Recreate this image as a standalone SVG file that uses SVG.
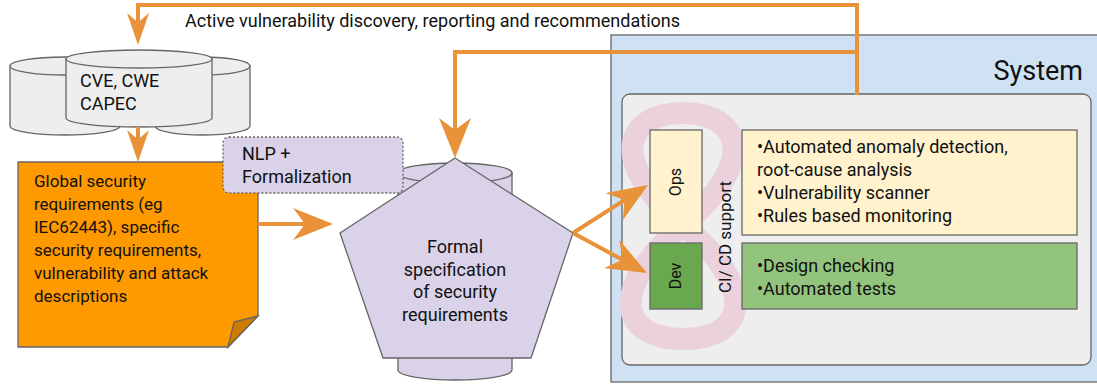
<svg xmlns="http://www.w3.org/2000/svg" width="1097" height="387" viewBox="0 0 1097 387">
<style>
text{font-family:Roboto,"Liberation Sans",sans-serif;fill:#111;}
.t{font-size:18px;}
.n{font-size:17px;}
.v{font-size:16px;}
.sh{stroke:#666;stroke-width:1.3;}
.cyl{fill:#eeeeee;}
.lav{fill:#d9d2e9;}
.con{fill:none;stroke:#e8923a;stroke-width:4;stroke-linejoin:miter;}
</style>
<defs>
<marker id="ah" viewBox="0 0 10 8" refX="3" refY="4" markerWidth="10" markerHeight="8" markerUnits="strokeWidth" orient="auto">
<path d="M0,0 L10,4 L0,8 L3,4 Z" fill="#e8923a"/>
</marker>
<marker id="ahs" viewBox="0 0 8 5.5" refX="2.4" refY="2.75" markerWidth="8" markerHeight="5.5" markerUnits="strokeWidth" orient="auto">
<path d="M0,0 L8,2.75 L0,5.5 L2.4,2.75 Z" fill="#e8923a"/>
</marker>
</defs>

<g id="system">
<rect x="611" y="35" width="500" height="347" fill="#cfe2f3" class="sh"/>
<text x="1083" y="80" text-anchor="end" style="font-size:27px">System</text>
</g>

<g id="cicd">
<rect x="622" y="94" width="469" height="271" rx="8" fill="#eeeeee" class="sh"/>
<path d="M683,225 C760,160 740,113 683,113 C626,113 606,160 683,225 C760,290 745,339 683,339 C621,339 606,290 683,225 Z" fill="none" stroke="#ead1dc" stroke-width="22"/>
<text transform="translate(731,237) rotate(-90)" text-anchor="middle" style="font-size:17px">CI/ CD support</text>
</g>

<g id="ops">
<rect x="650" y="130" width="52" height="103" fill="#fff2cc" class="sh"/>
<text class="v" transform="translate(681,182) rotate(-90)" text-anchor="middle">Ops</text>
</g>

<g id="dev">
<rect x="650" y="243" width="52" height="66" fill="#6aa84f" class="sh"/>
<text class="v" transform="translate(681,276) rotate(-90)" text-anchor="middle">Dev</text>
</g>

<g id="ops-tasks">
<rect x="742" y="130" width="335" height="105" fill="#fff2cc" class="sh"/>
<text class="t" x="757" y="153">•Automated anomaly detection,</text>
<text class="t" x="757" y="176">root-cause analysis</text>
<text class="t" x="757" y="199">•Vulnerability scanner</text>
<text class="t" x="757" y="222">•Rules based monitoring</text>
</g>

<g id="dev-tasks">
<rect x="742" y="243" width="335" height="66" fill="#93c47d" class="sh"/>
<text class="t" x="757" y="272">•Design checking</text>
<text class="t" x="757" y="295">•Automated tests</text>
</g>

<g id="databases">
<path class="cyl sh" d="M10,66 V126 A55,9 0 0 0 120,126 V66 Z"/>
<ellipse class="cyl sh" cx="65" cy="66" rx="55" ry="9"/>
<path class="cyl sh" d="M155,66 V126 A47.5,9 0 0 0 250,126 V66 Z"/>
<ellipse class="cyl sh" cx="202.5" cy="66" rx="47.5" ry="9"/>
<path class="cyl sh" d="M66,59 V118 A73,9 0 0 0 212,118 V59 Z"/>
<ellipse class="cyl sh" cx="139" cy="59" rx="73" ry="9"/>
<text class="t" x="80" y="87">CVE, CWE</text>
<text class="t" x="80" y="110">CAPEC</text>
</g>

<g id="requirements">
<path d="M18,162 H258 V316 L228,347 H18 Z" fill="#ff9900" class="sh"/>
<path d="M258,316 L228,347 L234,322 Z" fill="#cc7a00" class="sh"/>
<text class="n" x="34" y="187">Global security</text>
<text class="n" x="34" y="210">requirements (eg</text>
<text class="n" x="34" y="233">IEC62443), specific</text>
<text class="n" x="34" y="256">security requirements,</text>
<text class="n" x="34" y="279">vulnerability and attack</text>
<text class="n" x="34" y="302">descriptions</text>
</g>

<g id="formal-store">
<path class="lav sh" d="M398,173 V370 A57,10 0 0 0 512,370 V173 Z"/>
<ellipse class="lav sh" cx="455" cy="173" rx="57" ry="10"/>
</g>

<g id="nlp">
<rect x="223" y="137" width="180" height="56" rx="6" fill="#d9d2e9" stroke="#666" stroke-width="1.3" stroke-dasharray="2,2"/>
<text class="t" x="242" y="160">NLP +</text>
<text class="t" x="242" y="183">Formalization</text>
</g>

<g id="formal-spec">
<path class="lav sh" d="M455,158 L573,233 L531,358 L383,358 L340,233 Z"/>
<text class="t" x="455" y="253" text-anchor="middle">Formal</text>
<text class="t" x="455" y="276" text-anchor="middle">specification</text>
<text class="t" x="455" y="298" text-anchor="middle">of security</text>
<text class="t" x="455" y="321" text-anchor="middle">requirements</text>
</g>

<g id="connectors">
<path class="con" d="M857,95 V5 H138 V22.6" marker-end="url(#ahs)"/>
<text class="t" x="185" y="27">Active vulnerability discovery, reporting and recommendations</text>
<path class="con" d="M857,52 H455 V130" marker-end="url(#ah)"/>
<path class="con" d="M138,127 V139.6" marker-end="url(#ahs)"/>
<path class="con" d="M258,224 H305" marker-end="url(#ah)"/>
<path class="con" d="M573,233 L624.4,200.1" marker-end="url(#ah)"/>
<path class="con" d="M573,233 L622.4,259.7" marker-end="url(#ah)"/>
</g>
</svg>
